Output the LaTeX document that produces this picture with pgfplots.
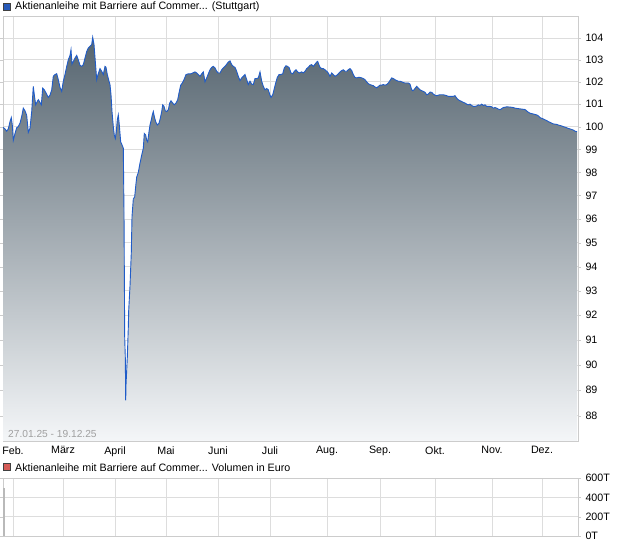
\documentclass[border=0pt]{standalone}
\usepackage{fontspec}
\setmainfont{Liberation Sans}
\usepackage{pgfplots}
\pgfplotsset{compat=1.18}
\usepackage{pgfplotstable}
\definecolor{gridc}{RGB}{221,221,221}
\definecolor{framec}{RGB}{204,204,204}
\definecolor{linec}{RGB}{32,92,200}
\definecolor{topc}{RGB}{86,101,112}
\definecolor{botc}{RGB}{244,246,248}
\definecolor{legblue}{RGB}{40,90,185}
\definecolor{legred}{RGB}{214,92,88}
\definecolor{datec}{RGB}{160,160,160}
\definecolor{volc}{RGB}{185,185,185}

\pgfplotstableread{
x y
3 99.97
5 99.9
6.7 99.8
8.3 99.9
10 100.22
11.3 100.4
12.3 100.07
13.3 99.4
15 99.7
16.7 99.95
18.3 100.0
20 100.15
21.7 100.45
23.3 100.82
25 100.7
26.7 100.5
28.3 99.75
30 99.93
31.7 100.67
33.3 101.8
34.3 101.42
35.7 100.97
37.3 101.12
38.3 101.2
40 101.08
41.3 100.97
42.7 101.72
44.3 101.64
46 101.5
48.3 101.3
50 101.4
51.7 101.64
53.3 102.25
55 102.33
56.7 102.37
58.3 102.1
60 101.75
61.7 101.57
63.3 102.03
65 102.33
66.7 102.7
68.3 103.0
70 103.2
71 103.46
72 102.8
73.3 102.92
75 103.08
76.7 103.2
78.3 103.0
80 102.75
81.7 102.7
83.3 102.78
85 103.08
86.7 103.38
88.3 103.54
90 103.62
91.7 103.7
92.7 104.03
94 103.7
95.3 102.92
96.7 102.1
98 102.33
100 102.6
101.7 102.48
103.3 102.33
105 102.7
106 102.66
107.3 102.33
109 102.03
110 101.88
111 101.42
112 100.67
113.3 100.0
114.3 99.63
115.3 99.48
116.3 99.78
117.3 100.3
118.3 100.52
119.3 100.07
120.7 99.33
122 99.2
123.3 99.05
124 96.3
124.7 91.1
125.3 90.3
125.7 88.6
126 89.2
127.3 90.3
128.3 91.5
128.7 92.2
130 93.2
131.3 94.6
132 96.1
133.3 96.85
134.7 96.95
135.7 97.4
136.7 97.8
138.3 98.0
140 98.4
141.7 98.75
143.3 99.05
144.3 99.7
145.7 99.63
146.7 99.4
147.7 99.33
149 99.78
150 100.07
151.3 100.3
152.3 100.52
153.3 100.67
154.3 100.45
155.7 100.22
157.3 100.07
159 100.15
160.3 100.37
161.7 100.67
162.7 100.97
164 100.9
165.3 100.7
166.7 100.67
168.3 100.75
169.7 101.05
171 101.15
172.7 101.05
174.3 100.97
176 101.05
177.7 101.2
179 101.5
180.7 101.85
182.3 101.95
184 102.1
186 102.33
188.3 102.36
190.7 102.36
192.7 102.4
195 102.45
196.7 102.4
198.3 102.33
200 102.25
201.7 102.36
203.3 102.45
205 102.0
206.7 102.18
208.3 102.36
210 102.55
211.7 102.66
213.3 102.7
215 102.63
216.7 102.48
218.3 102.4
220 102.4
221.7 102.55
223.3 102.63
225 102.7
226.7 102.8
228.3 102.9
230 102.95
231.7 102.78
233.3 102.7
235 102.66
236.7 102.48
238.3 102.25
240 102.06
241.7 102.18
243.3 102.25
245 102.33
246.7 102.1
248.3 101.88
250 102.03
251.7 101.9
253.3 101.88
255 102.15
256.7 102.15
258.3 102.18
260 102.45
261.7 102.03
263.3 101.8
265 101.64
266.7 101.7
268.3 101.64
270 101.4
271 101.3
272.7 101.42
274 101.64
275.7 101.95
277.3 102.2
279 102.33
280.7 102.33
282.7 102.36
284.3 102.63
286 102.73
287.7 102.7
289.3 102.63
291 102.4
292.7 102.36
294.3 102.48
296 102.55
297.7 102.45
299.3 102.4
301.7 102.45
303.3 102.4
305 102.48
306.7 102.6
308.3 102.66
310 102.75
311.7 102.78
313.3 102.7
315 102.8
316.7 102.9
317.7 102.93
318.7 102.8
320 102.66
321.7 102.6
323.3 102.6
325 102.55
326.7 102.48
328.3 102.4
330 102.25
331.7 102.4
333.3 102.33
335 102.25
336.7 102.3
338.3 102.36
340 102.45
341.7 102.51
343.3 102.55
345 102.48
346.7 102.48
348.3 102.55
350 102.6
351.7 102.51
353.3 102.33
355 102.2
356.7 102.18
358.3 102.2
360 102.2
361.7 102.18
363.3 102.15
365 102.1
366.7 102.0
368.3 101.92
370 101.88
371.7 101.85
373.3 101.83
375 101.77
376.7 101.73
378.3 101.79
380 101.85
381.7 101.85
383.3 101.88
385 101.85
386.7 101.88
388.3 101.95
390 102.06
391.7 102.18
393.3 102.15
395 102.1
396.7 102.06
398.3 102.03
400 102.03
401.7 102.0
403.3 101.97
405 101.95
408.3 101.95
410 101.9
411.7 101.64
412.7 101.6
414 101.64
415.3 101.72
416.7 101.8
418.3 101.72
420 101.64
421.7 101.6
423.3 101.57
425 101.53
426.7 101.42
428.3 101.45
430 101.54
431.7 101.53
433.3 101.45
435 101.4
436.7 101.38
438.3 101.4
440 101.42
443.3 101.42
445 101.4
446.7 101.38
448.3 101.35
453.3 101.35
455 101.38
456.7 101.27
458.3 101.2
460 101.15
461.7 101.12
463.3 101.08
465 101.05
466.7 101.0
468.3 100.97
470 101.0
471.7 100.94
473.3 100.9
475 100.9
476.7 100.92
478.3 100.97
480 100.94
481.7 101.0
483.3 100.94
485 100.97
486.7 100.9
488.3 100.9
490 100.9
491.7 100.88
493.3 100.82
495 100.85
496.7 100.82
498.3 100.78
500 100.75
501.7 100.8
503.3 100.85
506.7 100.88
510 100.87
513.3 100.85
515 100.82
518.3 100.8
521.7 100.78
525 100.76
528.3 100.64
530 100.6
533.3 100.56
536.7 100.52
538.3 100.48
540 100.4
541.7 100.37
543.3 100.34
545 100.3
546.7 100.27
548.3 100.22
550 100.19
551.7 100.15
553.3 100.12
556.7 100.1
558.3 100.07
560 100.05
561.7 100.03
563.3 100.0
565 99.98
566.7 99.95
568.3 99.92
570 99.9
573.3 99.85
575 99.8
577 99.78
}\pricedata

\begin{document}
\begin{tikzpicture}
\useasboundingbox (0pt,0pt) rectangle (620pt,-546pt);
\draw[draw=black!75, fill=legblue, line width=0.6pt] (3.5pt,-3.5pt) rectangle (10.5pt,-10.5pt);
\node[anchor=west, inner sep=0pt, font=\fontsize{10.7}{12}\selectfont] at (15pt,-7.2pt) {Aktienanleihe mit Barriere auf Commer... (Stuttgart)};
\begin{axis}[
  at={(3pt,-16pt)}, anchor=north west, scale only axis,
  width=575pt, height=425pt,
  xmin=3, xmax=578,
  ymode=log, ymin=87.03, ymax=105.02,
  axis line style={framec},
  grid=major, grid style={gridc, line width=0.8pt},
  xtick={13,63,115,166,218,270,327,380,435,492,542},
  xticklabels={Feb.,März,April,Mai,Juni,Juli,Aug.,Sep.,Okt.,Nov.,Dez.},
  ytick={88,89,90,91,92,93,94,95,96,97,98,99,100,101,102,103,104},
  yticklabels={88,89,90,91,92,93,94,95,96,97,98,99,100,101,102,103,104},
  yticklabel pos=right,
  tick align=outside, major tick length=3pt,
  xtick style={draw=none}, ytick style={framec},
  ticklabel style={font=\fontsize{10.7}{12}\selectfont},
  xticklabel style={yshift=1pt},
  yticklabel style={xshift=1pt},
]
\addplot[draw=none, top color=topc, bottom color=botc] table[x=x,y=y] {\pricedata} -- (axis cs:577,87.03) -- (axis cs:3,87.03) -- cycle;
\addplot[linec, line width=0.9pt] table[x=x,y=y] {\pricedata};
\node[anchor=base west, inner sep=0pt, text=datec, font=\fontsize{10.2}{12}\selectfont] at (rel axis cs:0.0087,0.008) {27.01.25 - 19.12.25};
\end{axis}
\draw[draw=black!75, fill=legred, line width=0.6pt] (3.5pt,-463.5pt) rectangle (10.5pt,-470.5pt);
\node[anchor=west, inner sep=0pt, font=\fontsize{10.7}{12}\selectfont] at (15pt,-467.2pt) {Aktienanleihe mit Barriere auf Commer... Volumen in Euro};
\begin{axis}[
  at={(3pt,-478pt)}, anchor=north west, scale only axis,
  width=575pt, height=58pt,
  xmin=3, xmax=578, ymin=0, ymax=600,
  axis line style={framec},
  grid=major, grid style={gridc, line width=0.8pt},
  xtick={13,63,115,166,218,270,327,380,435,492,542},
  xticklabels={},
  ytick={0,200,400,600},
  yticklabels={0T,200T,400T,600T},
  yticklabel pos=right,
  tick align=outside, major tick length=3pt,
  xtick style={draw=none}, ytick style={framec},
  ticklabel style={font=\fontsize{10.7}{12}\selectfont},
  yticklabel style={xshift=1pt},
]
\addplot[ybar, bar width=1.5pt, fill=volc, draw=none] coordinates {(4,500)};
\end{axis}
\end{tikzpicture}
\end{document}
